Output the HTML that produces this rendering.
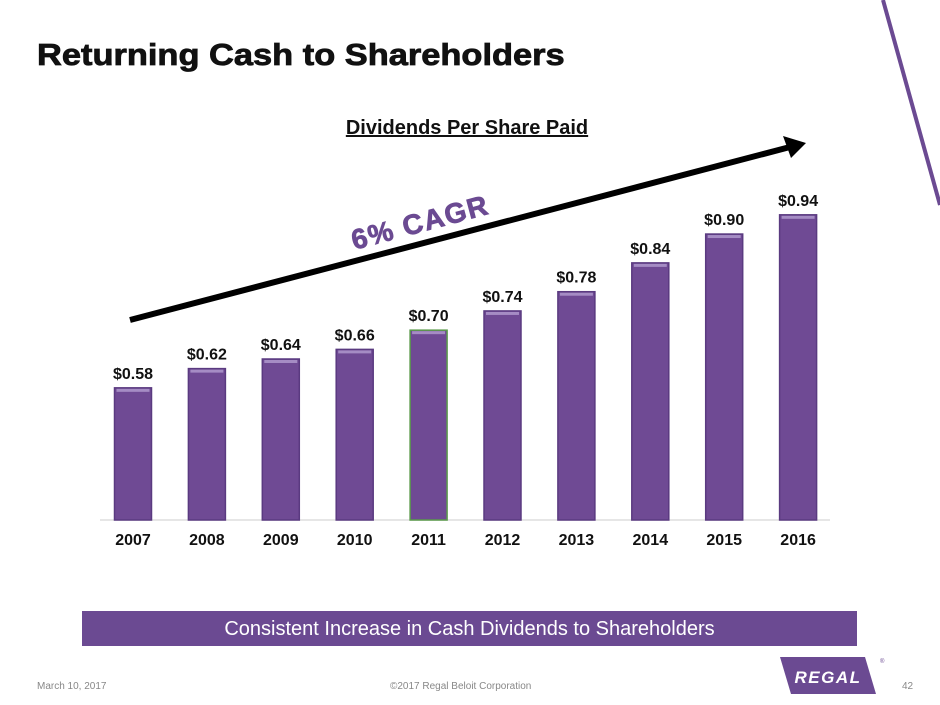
<!DOCTYPE html>
<html><head><meta charset="utf-8"><style>
body{margin:0;width:940px;height:705px;background:#fff;font-family:"Liberation Sans",Arial,sans-serif;position:relative;overflow:hidden}
.abs{position:absolute}
</style></head><body>
<div class="abs" style="left:37px;top:37px;font-size:31px;font-weight:bold;color:#111;transform:scaleX(1.11);transform-origin:left top;-webkit-text-stroke:0.8px #111">Returning Cash to Shareholders</div>
<svg class="abs" style="left:0;top:0" width="940" height="705">
<line x1="883" y1="0" x2="940" y2="205" stroke="#6b4a92" stroke-width="4"/>
<text x="467" y="134" text-anchor="middle" font-size="20" font-weight="bold" text-decoration="underline" fill="#111">Dividends Per Share Paid</text>
<line x1="100" y1="520" x2="830" y2="520" stroke="#ddd" stroke-width="1.5"/>
<g id="bars"></g>
<line x1="130" y1="320" x2="790" y2="147" stroke="#000" stroke-width="6"/>
<polygon points="806,143 783,136 791,158" fill="#000"/>
<text x="420" y="232" text-anchor="middle" font-size="28" font-weight="bold" fill="#6b4a92" stroke="#6b4a92" stroke-width="0.8" transform="rotate(-15 420 222)" letter-spacing="1.5">6% CAGR</text>
</svg>
<div class="abs" style="left:82px;top:611px;width:775px;height:35px;background:#6b4a92;color:#fff;font-size:20px;text-align:center;line-height:37px">Consistent Increase in Cash Dividends to Shareholders</div>
<div class="abs" style="left:37px;top:681px;font-size:10px;color:#888">March 10, 2017</div>
<div class="abs" style="left:390px;top:681px;font-size:10px;color:#888">©2017 Regal Beloit Corporation</div>
<div class="abs" style="left:902px;top:681px;font-size:10px;color:#888">42</div>
<svg class="abs" style="left:780px;top:655px" width="110" height="42">
<polygon points="0,2 85,2 96,39 11,39" fill="#6b4a92"/>
<text x="48" y="28" text-anchor="middle" font-size="17" font-weight="bold" font-style="italic" fill="#fff" letter-spacing="1.5">REGAL</text>
<text x="100" y="8" font-size="6" fill="#6b4a92">®</text>
</svg>
<script>
const years=["2007","2008","2009","2010","2011","2012","2013","2014","2015","2016"];
const values=[0.58,0.62,0.64,0.66,0.70,0.74,0.78,0.84,0.90,0.94];
const labels=["$0.58","$0.62","$0.64","$0.66","$0.70","$0.74","$0.78","$0.84","$0.90","$0.94"];
const base=520,v0=0.305,k=480.6,x0=133,step=73.9,bw=37;
const y=v=>base-k*(v-v0);
const x=i=>x0+i*step;
const g=document.getElementById('bars');const ns="http://www.w3.org/2000/svg";
values.forEach((v,i)=>{
 const r=document.createElementNS(ns,'rect');
 r.setAttribute('x',x(i)-bw/2);r.setAttribute('y',y(v));r.setAttribute('width',bw);r.setAttribute('height',base-y(v));
 r.setAttribute('fill','#6f4a94');r.setAttribute('stroke',i==4?'#5a9a4a':'#5a3a80');r.setAttribute('stroke-width','1.5');
 
 
 g.appendChild(r);
 const hl=document.createElementNS(ns,'rect');
 hl.setAttribute('x',x(i)-bw/2+2);hl.setAttribute('y',y(v)+1);hl.setAttribute('width',bw-4);hl.setAttribute('height',3);hl.setAttribute('fill','#a58cc4');
 
 
 g.appendChild(hl);
 const t=document.createElementNS(ns,'text');
 t.setAttribute('x',x(i));t.setAttribute('y',y(v)-9);t.setAttribute('text-anchor','middle');t.setAttribute('font-size','16');t.setAttribute('font-weight','bold');t.setAttribute('fill','#111');
 t.textContent=labels[i];
 
 
 g.appendChild(t);
 const c=document.createElementNS(ns,'text');
 c.setAttribute('x',x(i));c.setAttribute('y',545);c.setAttribute('text-anchor','middle');c.setAttribute('font-size','16');c.setAttribute('font-weight','bold');c.setAttribute('fill','#111');
 c.textContent=years[i];
 
 
 g.appendChild(c);
});
</script>
</body></html>
